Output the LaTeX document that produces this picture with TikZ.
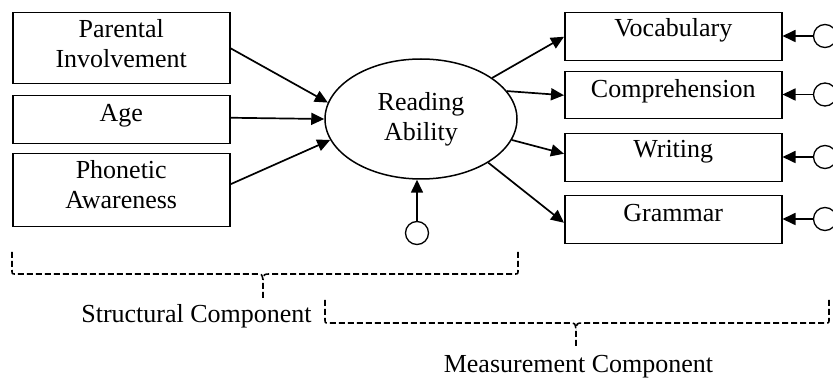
\documentclass[tikz,border=0pt]{standalone}
\usepackage{fontspec}
\setmainfont{Liberation Serif}
\usetikzlibrary{shapes.geometric,arrows.meta}
\tikzset{
  txt/.style={font=\fontsize{26pt}{30pt}\selectfont},
  varbox/.style={txt, draw, line width=1.5pt, minimum width=217pt, inner xsep=0pt, inner ysep=0pt, align=center, anchor=north west},
  latent/.style={txt, draw, ellipse, line width=1.5pt, minimum width=192pt, minimum height=120pt, inner sep=0pt, align=center},
  err/.style={draw, circle, line width=1.3pt, minimum size=23pt, inner sep=0pt},
  path/.style={line width=1.7pt, -{Triangle[length=13pt,width=12pt]}},
  brk/.style={line width=1.6pt, dash pattern=on 6pt off 3pt}
}
\begin{document}
\begin{tikzpicture}[x=1pt,y=-1pt]
\useasboundingbox (0,0) rectangle (833,379);
% observed predictors
\node[varbox, text height=55pt, text depth=16pt] (Par) at (12,12) {Parental\\Involvement};
\node[varbox, text height=26pt, text depth=22pt] (Age) at (12,95) {Age};
\node[varbox, text height=55pt, text depth=18pt] (Pho) at (12,153) {Phonetic\\Awareness};
% latent
\node[latent] (RA) at (421,119) {Reading\\Ability};
% indicators
\node[varbox, text height=24pt, text depth=24pt] (Voc) at (564,12) {Vocabulary};
\node[varbox, text height=26pt, text depth=21pt] (Com) at (564,71) {Comprehension};
\node[varbox, text height=24pt, text depth=24pt] (Wri) at (564,133) {Writing};
\node[varbox, text height=26pt, text depth=22pt] (Gra) at (564,195) {Grammar};
% error terms
\node[err] (eRA) at (417,233) {};
\node[err] (eV) at (825,36) {};
\node[err] (eC) at (825,94.5) {};
\node[err] (eW) at (825,157) {};
\node[err] (eG) at (825,219) {};
% structural paths
\draw[path] (Par.east) -- (RA.170);
\draw[path] ([yshift=2pt]Age.east) -- (RA.180);
\draw[path] ([yshift=6pt]Pho.east) -- (RA.193);
\draw[path] (eRA.north) -- (eRA.north |- RA.south);
% measurement paths
\draw[path] (RA.30) -- (Voc.west);
\draw[path] (RA.18) -- (Com.west);
\draw[path] (RA.-13) -- ([yshift=4pt]Wri.west);
\draw[path] (RA.-33) -- ([yshift=-3pt]Gra.west);
\draw[path] (eV.west) -- (eV.west -| Voc.east);
\draw[path] (eC.west) -- (eC.west -| Com.east);
\draw[path] (eW.west) -- (eW.west -| Wri.east);
\draw[path] (eG.west) -- (eG.west -| Gra.east);
% structural bracket
\coordinate (sL) at (12,252);
\coordinate (sR) at (518,252);
\coordinate (sM) at (263,300);
\draw[brk] (sL) -- (12,270) .. controls (12,274) .. (16,274) -- (256,274) .. controls (262,274) .. (263,280) -- (sM);
\draw[brk] (sR) -- (518,270) .. controls (518,274) .. (514,274) -- (270,274) .. controls (264,274) .. (263,280);
% measurement bracket
\coordinate (mL) at (325,300);
\coordinate (mR) at (829,300);
\coordinate (mM) at (576,347);
\draw[brk] (mL) -- (325,319) .. controls (325,323) .. (329,323) -- (569,323) .. controls (575,323) .. (576,329) -- (mM);
\draw[brk] (mR) -- (829,319) .. controls (829,323) .. (825,323) -- (583,323) .. controls (577,323) .. (576,329);
% labels
\node[txt, anchor=base] (sLab) at (196.5,323) {Structural Component};
\node[txt, anchor=base] (mLab) at (578.5,373) {Measurement Component};
\end{tikzpicture}
\end{document}
